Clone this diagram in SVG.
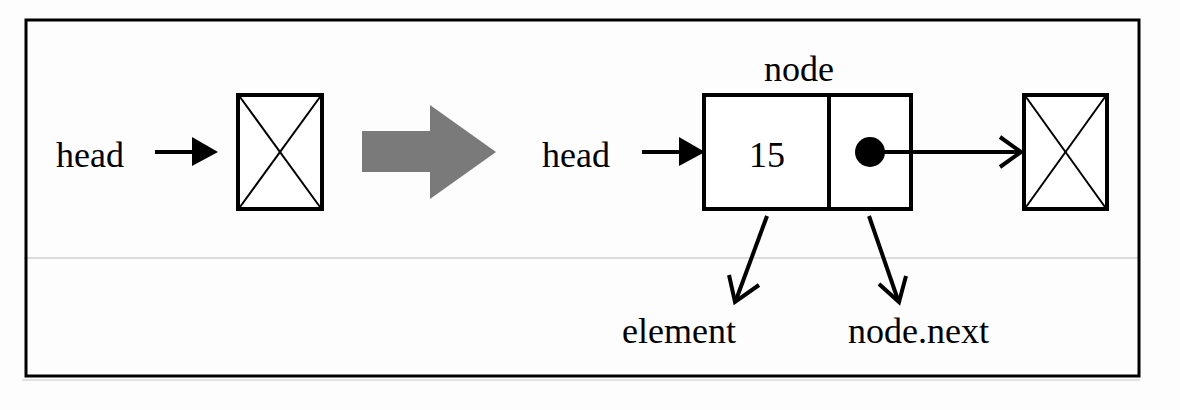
<svg xmlns="http://www.w3.org/2000/svg" width="1180" height="410" viewBox="0 0 1180 410">
<defs>
<style>
.t{font-family:"Liberation Serif","Times New Roman",serif;font-size:36px;fill:#000}
.box{fill:#fff;stroke:#000;stroke-width:4}
.x{stroke:#000;stroke-width:2}
.ln{stroke:#000;stroke-width:4;fill:none}
.open{stroke:#000;stroke-width:4;fill:none;stroke-linecap:butt;stroke-linejoin:miter}
</style>
</defs>
<rect width="1180" height="410" fill="#fdfdfd"/>
<g id="frame">
<line x1="22" y1="380" x2="1140" y2="380" stroke="#e2e2e2" stroke-width="2"/>
<line x1="24" y1="258" x2="1140" y2="258" stroke="#dcdcdc" stroke-width="2"/>
<rect x="26" y="20" width="1113" height="356" fill="none" stroke="#000" stroke-width="3"/>
</g>
<g id="head1"><text class="t" x="56" y="167">head</text></g>
<g id="null1">
<rect class="box" x="238" y="95" width="84" height="114"/>
<line class="x" x1="240" y1="97" x2="320" y2="207"/>
<line class="x" x1="320" y1="97" x2="240" y2="207"/>
</g>
<g id="bigarrow">
<polygon points="362,131 430,131 430,105 496,152 430,199 430,172 362,172" fill="#7a7a7a"/>
</g>
<g id="head2"><text class="t" x="542" y="167">head</text></g>
<g id="node">
<text class="t" x="799" y="81" text-anchor="middle">node</text>
<rect class="box" x="704" y="95" width="207" height="114"/>
<line class="ln" x1="829" y1="95" x2="829" y2="209"/>
<text class="t" x="767" y="167" text-anchor="middle">15</text>
<circle cx="870" cy="152" r="15" fill="#000"/>
</g>
<g id="null2">
<rect class="box" x="1024" y="95" width="83" height="114"/>
<line class="x" x1="1026" y1="97" x2="1105" y2="207"/>
<line class="x" x1="1105" y1="97" x2="1026" y2="207"/>
</g>
<g id="element"><text class="t" x="622" y="343">element</text></g>
<g id="nodenext"><text class="t" x="848" y="343">node.next</text></g>
<g id="connectors">
<line class="ln" x1="155" y1="152" x2="194" y2="152"/>
<polygon points="192,137 218,152 192,166" fill="#000"/>
<line class="ln" x1="642" y1="152" x2="681" y2="152"/>
<polygon points="679,137 705,152 679,166" fill="#000"/>
<line class="ln" x1="870" y1="152" x2="1020" y2="152"/>
<polyline class="open" points="1000,137 1021,152 1000,167"/>
<line class="ln" x1="767" y1="216" x2="736" y2="300"/>
<polyline class="open" points="729,275 735,302 759,285"/>
<line class="ln" x1="869" y1="216" x2="898" y2="300"/>
<polyline class="open" points="879,284 899,302 906,276"/>
</g>
</svg>
